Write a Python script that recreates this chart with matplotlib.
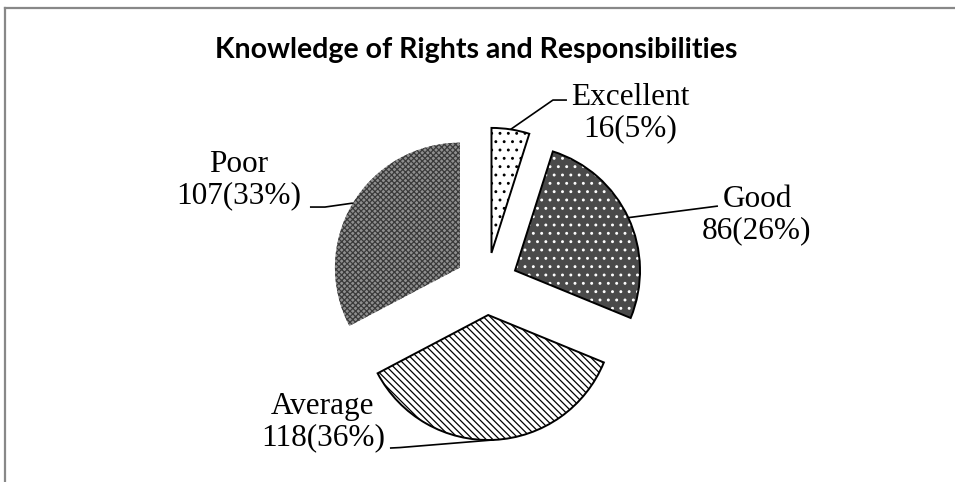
import matplotlib
matplotlib.use("Agg")
import matplotlib.pyplot as plt
import numpy as np

labels = ['Excellent', 'Good', 'Average', 'Poor']
counts = [16, 86, 118, 107]
percents = [5, 26, 36, 33]

fills = ['white', '#4a4a4a', 'white', '#8f8f8f']
hatch_colors = ['black', 'white', 'black', '#3a3a3a']
hatches = ['..', '..', '\\\\\\\\\\', 'xxxxxx']
outline = ['black', 'black', 'black', 'none']

# label block centres and leader end points (pie radius = 1)
label_pos = [(1.146, 1.366), (2.162, 0.55), (-1.31, -1.106), (-1.982, 0.83)]
leader_pts = [[(0.53, 1.47), (0.642, 1.47)],
              [(1.85, 0.622)],
              [(-0.694, -1.31), (-0.774, -1.314)],
              [(-1.294, 0.614), (-1.414, 0.614)]]

plt.rcParams['hatch.linewidth'] = 0.9

fig = plt.figure(figsize=(9.55, 4.82), dpi=100)
ax = fig.add_axes([0, 0, 1, 1])

explode = [0.25] * len(counts)
wedges, _ = ax.pie(counts, explode=explode, startangle=90, counterclock=False,
                   radius=1, labels=None)
for w, fc, hc, h in zip(wedges, fills, hatch_colors, hatches):
    w.set_facecolor(fc)
    w.set_edgecolor(hc)
    w.set_linewidth(0)
    w.set_hatch(h)

rims, _ = ax.pie(counts, explode=explode, startangle=90, counterclock=False,
                 radius=1, wedgeprops=dict(fill=False, linewidth=1.4))
for r, ec in zip(rims, outline):
    r.set_edgecolor(ec)

for w, lab, n, p, pos, pts in zip(wedges, labels, counts, percents, label_pos, leader_pts):
    mid = np.deg2rad((w.theta1 + w.theta2) / 2)
    cx, cy = w.center
    ax_x = cx + np.cos(mid)
    ax_y = cy + np.sin(mid)
    xs = [ax_x] + [q[0] for q in pts]
    ys = [ax_y] + [q[1] for q in pts]
    ax.plot(xs, ys, color='black', linewidth=1.2, solid_capstyle='butt')
    ax.text(pos[0], pos[1], f'{lab}\n{n}({p}%)', ha='center', va='center',
            fontsize=22.5, family='Liberation Serif', linespacing=1.13)

ax.set_xlim(-486.7 / 125, (955 - 486.7) / 125)
ax.set_ylim(-(482 - 283.8) / 125, 283.8 / 125)
ax.set_aspect('auto')
ax.axis('off')

fig.text(476.5 / 955, 1 - 58 / 482, 'Knowledge of Rights and Responsibilities',
         ha='center', va='baseline', fontsize=20.5, fontweight='bold', family='Lato')

# chart border (top and left edges visible)
fig.add_artist(plt.Line2D([5 / 955, 5 / 955], [0, 1 - 8 / 482], color='#888888', linewidth=1.6))
fig.add_artist(plt.Line2D([5 / 955, 1], [1 - 8 / 482, 1 - 8 / 482], color='#888888', linewidth=1.6))

fig.savefig('out.png', dpi=100, facecolor='white')
